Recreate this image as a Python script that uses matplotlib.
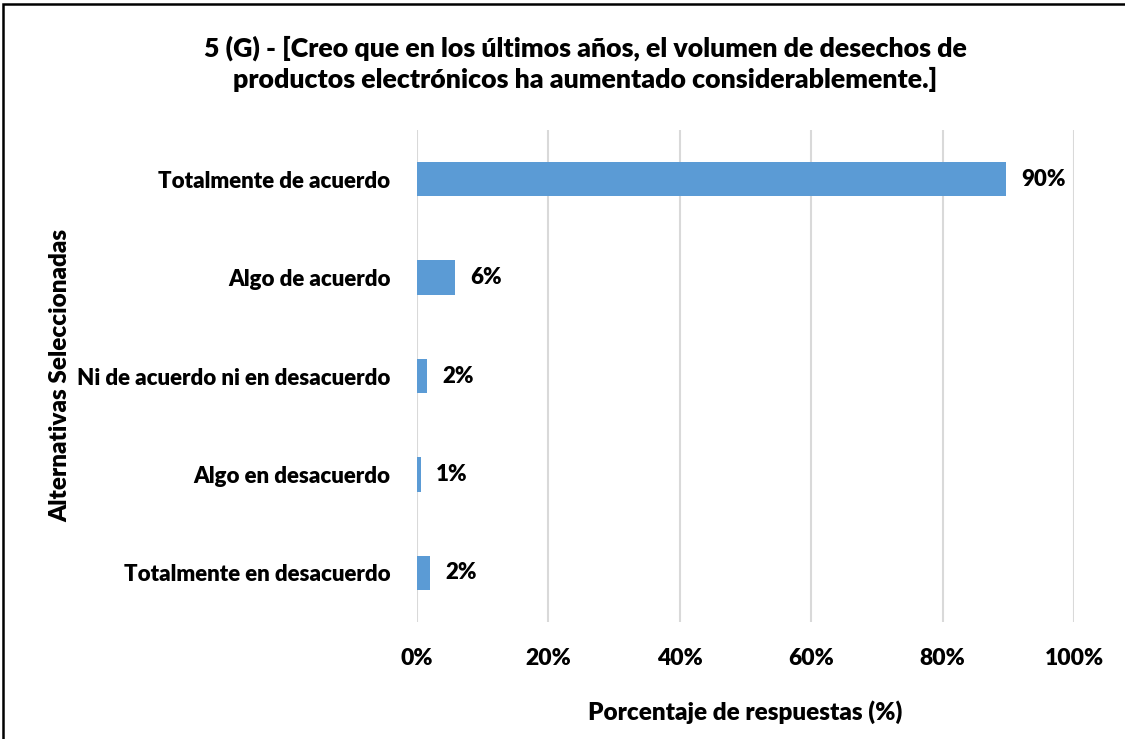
import matplotlib.pyplot as plt
from matplotlib.patches import Rectangle

plt.rcParams['font.family'] = ['Lato', 'DejaVu Sans']
W = 'heavy'

# data
categories = ['Totalmente de acuerdo', 'Algo de acuerdo',
              'Ni de acuerdo ni en desacuerdo', 'Algo en desacuerdo',
              'Totalmente en desacuerdo']
values = [89.6, 5.8, 1.5, 0.6, 2.0]
xticks = [0, 20, 40, 60, 80, 100]

title = ('5 (G) - [Creo que en los últimos años, el volumen de desechos de\n'
         'productos electrónicos ha aumentado considerablemente.]')

fig = plt.figure(figsize=(11.25, 7.39), dpi=100)
ax = fig.add_axes([417/1125, 1 - 622/739, 657/1125, 492/739])

ypos = list(range(len(categories)))
ax.barh(ypos, values, height=0.35, color='#5b9bd5', zorder=3)
for y, v in zip(ypos, values):
    ax.text(v + 2.3, y, f'{v:.0f}%', va='center', ha='left',
            fontsize=16, fontweight=W)

ax.set_xlim(0, 100)
ax.set_ylim(len(categories) - 0.5, -0.5)
ax.set_yticks(ypos)
ax.set_yticklabels(categories, fontsize=16, fontweight=W)
ax.set_xticks(xticks)
ax.set_xticklabels([f'{t}%' for t in xticks], fontsize=16.5, fontweight=W)
ax.tick_params(axis='both', length=0)
ax.tick_params(axis='x', pad=19)
ax.tick_params(axis='y', pad=19)
ax.grid(axis='x', color='#d9d9d9', linewidth=1.5, zorder=0)
for s in ax.spines.values():
    s.set_visible(False)

ax.set_xlabel('Porcentaje de respuestas (%)', fontsize=17.5, fontweight=W,
              labelpad=22)
fig.text(60/1125, 1 - 375/739, 'Alternativas Seleccionadas', rotation=90,
         ha='center', va='center', fontsize=17.5, fontweight=W)
fig.text(585/1125, 1 - 64/739, title, ha='center', va='center',
         fontsize=19.3, fontweight=W, linespacing=1.3)

fig.patches.append(Rectangle((3/1125, -0.01), 1.02, 1 - 4/739 + 0.01,
                             transform=fig.transFigure, fill=False,
                             edgecolor='black', linewidth=1.8))

fig.savefig('out.png', dpi=100)
